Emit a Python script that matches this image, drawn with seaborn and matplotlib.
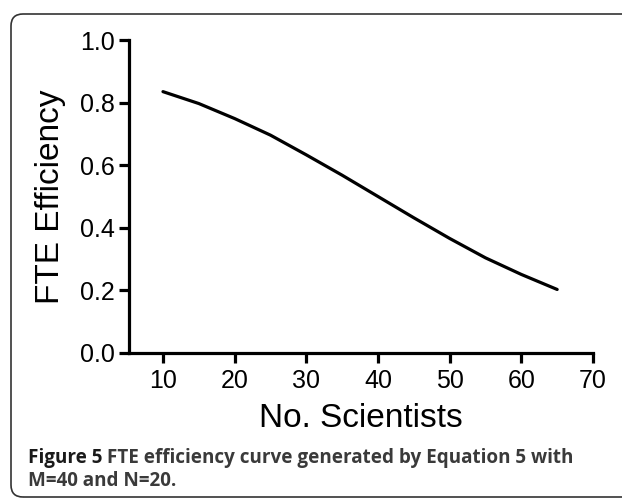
import numpy as np
import pandas as pd
import seaborn as sns
import matplotlib
matplotlib.use("Agg")
import matplotlib.pyplot as plt
from matplotlib.patches import FancyBboxPatch
from matplotlib.transforms import IdentityTransform

# FTE efficiency vs. number of scientists (Equation 5, M=40, N=20)
scientists = [10, 15, 20, 25, 30, 35, 40, 45, 50, 55, 60, 65]
efficiency = [0.835, 0.797, 0.749, 0.696, 0.633, 0.568, 0.500,
              0.432, 0.366, 0.304, 0.251, 0.203]
x_ticks = [10, 20, 30, 40, 50, 60, 70]
y_ticks = [0.0, 0.2, 0.4, 0.6, 0.8, 1.0]

df = pd.DataFrame({"No. Scientists": scientists, "FTE Efficiency": efficiency})

sns.set_style("ticks")
plt.rcParams["font.family"] = ["Liberation Sans", "DejaVu Sans"]

fig = plt.figure(figsize=(6.22, 4.99), dpi=100)
ax = fig.add_axes([129 / 622, 1 - 353 / 499, 464 / 622, 313 / 499])

sns.lineplot(data=df, x="No. Scientists", y="FTE Efficiency", ax=ax,
             color="black", linewidth=2.3)

ax.set_xlim(5.26, 70)
ax.set_ylim(0, 1.0)
ax.set_xticks(x_ticks)
ax.set_yticks(y_ticks)
ax.set_yticklabels([f"{v:.1f}" for v in y_ticks])
sns.despine(ax=ax)
for side in ("left", "bottom"):
    ax.spines[side].set_linewidth(2.3)
    ax.spines[side].set_color("black")
ax.tick_params(axis="both", colors="black", labelsize=18, width=2.3, length=7.5)
ax.tick_params(axis="x", pad=4)
ax.tick_params(axis="y", pad=3)

ax.set_xlabel("No. Scientists", fontsize=24, color="black")
ax.set_ylabel("FTE Efficiency", fontsize=24, color="black")
ax.xaxis.set_label_coords(0.5, -0.16)
ax.yaxis.set_label_coords(-0.136, 0.5)

# Caption below the plot
cap_font = ["Open Sans", "DejaVu Sans"]
t1 = fig.text(28 / 622, 1 - 458 / 499, "Figure 5", fontsize=13.6, fontweight="bold",
              family=cap_font, color="#1a1a1a", va="center")
fig.add_artist(matplotlib.text.Annotation(
    " FTE efficiency curve generated by Equation 5 with",
    xy=(1, 0.5), xycoords=t1, va="center", ha="left",
    fontsize=13.6, fontweight="bold", family=cap_font, color="#3a3a3a"))
fig.text(28 / 622, 1 - 481 / 499, "M=40 and N=20.", fontsize=13.6, fontweight="bold",
         family=cap_font, color="#3a3a3a", va="center")

# Rounded frame around the figure panel
frame = FancyBboxPatch((11, 2), 650, 483, boxstyle="round,pad=0,rounding_size=12",
                       transform=IdentityTransform(), fill=False,
                       edgecolor="#333333", linewidth=1.2)
fig.add_artist(frame)

fig.savefig("out.png", dpi=100)
